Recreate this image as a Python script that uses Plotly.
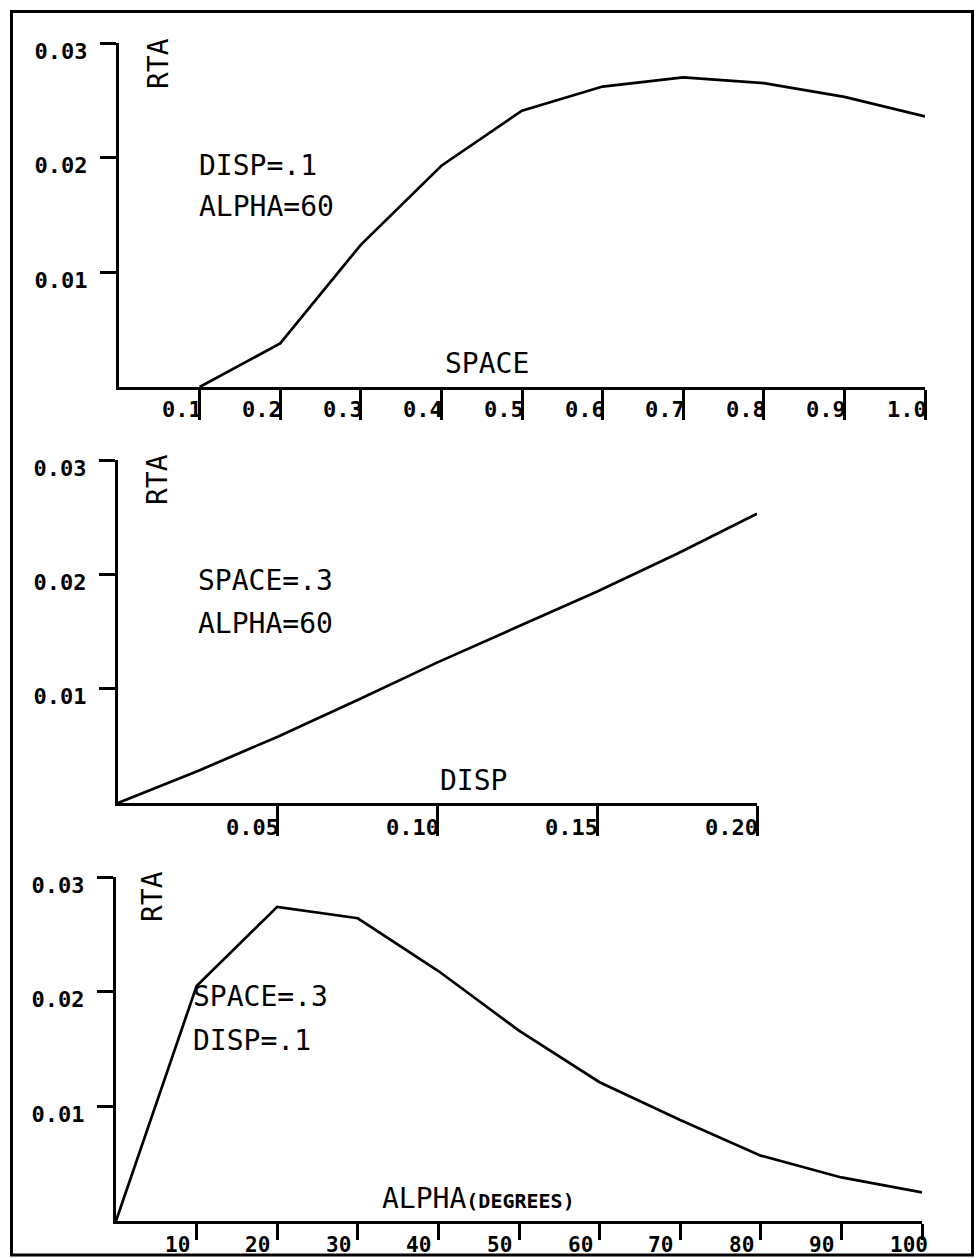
import plotly.graph_objects as go

W, H = 977, 1258

# ---------------- data ----------------
space_x = [0.1, 0.2, 0.3, 0.4, 0.5, 0.6, 0.7, 0.8, 0.9, 1.0]
space_rta = [0.0, 0.0038, 0.0124, 0.0193, 0.0241, 0.0262, 0.0270, 0.0265, 0.0253, 0.0236]

disp_x = [0.0, 0.025, 0.05, 0.075, 0.10, 0.125, 0.15, 0.175, 0.20]
disp_rta = [0.0, 0.0028, 0.0058, 0.0090, 0.0123, 0.0154, 0.0185, 0.0218, 0.0253]

alpha_x = [0, 10, 20, 30, 40, 50, 60, 70, 80, 90, 100]
alpha_rta = [0.0, 0.0205, 0.0274, 0.0264, 0.0218, 0.0166, 0.0121, 0.0088, 0.0057, 0.0038, 0.0025]

y_ticks = [0.01, 0.02, 0.03]
y_ticktext = ["0.01", "0.02", "0.03"]

space_ticks = [0.1, 0.2, 0.3, 0.4, 0.5, 0.6, 0.7, 0.8, 0.9, 1.0]
space_ticktext = ["0.1", "0.2", "0.3", "0.4", "0.5", "0.6", "0.7", "0.8", "0.9", "1.0"]
disp_ticks = [0.05, 0.10, 0.15, 0.20]
disp_ticktext = ["0.05", "0.10", "0.15", "0.20"]
alpha_ticks = [10, 20, 30, 40, 50, 60, 70, 80, 90, 100]
alpha_ticktext = ["10", "20", "30", "40", "50", "60", "70", "80", "90", "100"]

# ---------------- helpers ----------------
def px(x):
    return x / W

def py(y):
    return 1 - y / H

MONO = "DejaVu Sans Mono"
BLACK = "#000000"

panels = [
    dict(xd=(119, 925), yd=(43, 387), xr=[0, 1.0], x=space_x, y=space_rta,
         ticks=space_ticks, tt=space_ticktext, ticklen=30, lab_y=409, anchor="right", shift=4, fs=22),
    dict(xd=(118, 757), yd=(460, 803), xr=[0, 0.20], x=disp_x, y=disp_rta,
         ticks=disp_ticks, tt=disp_ticktext, ticklen=30, lab_y=827, anchor="right", shift=3, fs=22),
    dict(xd=(116, 922), yd=(877, 1221), xr=[0, 100], x=alpha_x, y=alpha_rta,
         ticks=alpha_ticks, tt=alpha_ticktext, ticklen=16, lab_y=1245, anchor="left", shift=-34, fs=21),
]

fig = go.Figure()
annotations = []
layout = dict(
    template="none",
    width=W, height=H,
    margin=dict(l=0, r=0, t=0, b=0, pad=0, autoexpand=False),
    paper_bgcolor="white", plot_bgcolor="white",
    showlegend=False,
)

for i, p in enumerate(panels, start=1):
    sx = "" if i == 1 else str(i)
    xa, ya = "xaxis" + sx, "yaxis" + sx
    fig.add_trace(go.Scatter(
        x=p["x"], y=p["y"], mode="lines",
        line=dict(color=BLACK, width=2.7),
        xaxis="x" + sx, yaxis="y" + sx, hoverinfo="skip",
    ))
    layout[xa] = dict(
        domain=[px(p["xd"][0]), px(p["xd"][1])],
        range=p["xr"], anchor="y" + sx, automargin=False,
        showline=True, linecolor=BLACK, linewidth=3,
        showgrid=False, zeroline=False,
        ticks="outside", tickvals=p["ticks"], ticklen=p["ticklen"],
        tickwidth=3, tickcolor=BLACK, showticklabels=False,
    )
    layout[ya] = dict(
        domain=[py(p["yd"][1]), py(p["yd"][0])],
        range=[0, 0.03], anchor="x" + sx, automargin=False,
        showline=True, linecolor=BLACK, linewidth=3,
        showgrid=False, zeroline=False,
        ticks="outside", tickvals=y_ticks, ticktext=y_ticktext,
        ticklen=16, tickwidth=3, tickcolor=BLACK,
        tickfont=dict(family=MONO, size=22, color=BLACK, weight="bold"),
        ticklabelstandoff=8, ticklabelshift=8,
    )
    for v, t in zip(p["ticks"], p["tt"]):
        annotations.append(dict(
            x=v, xref="x" + sx, y=py(p["lab_y"]), yref="paper",
            text=t, showarrow=False, xanchor=p["anchor"], yanchor="middle",
            xshift=p["shift"],
            font=dict(family=MONO, size=p["fs"], color=BLACK, weight="bold"),
        ))

TXT = dict(family=MONO, size=28, color=BLACK)

def label(text, x, y, xanchor="left", angle=0, font=TXT):
    annotations.append(dict(
        x=px(x), y=py(y), xref="paper", yref="paper", text=text,
        showarrow=False, xanchor=xanchor, yanchor="middle",
        textangle=angle, font=font,
    ))

# panel 1
label("RTA", 159, 64, "center", -90)
label("DISP=.1", 197, 165)
label("ALPHA=60", 197, 207)
label("SPACE", 487, 363, "center")
# panel 2
label("RTA", 157, 480, "center", -90)
label("SPACE=.3", 196, 580)
label("ALPHA=60", 196, 623)
label("DISP", 473, 780, "center")
# panel 3
label("RTA", 152, 897, "center", -90)
label("SPACE=.3", 191, 997)
label("DISP=.1", 191, 1040)
label("ALPHA<b><span style='font-size:20px'>(DEGREES)</span></b>", 380, 1198)

layout["annotations"] = annotations
layout["shapes"] = [dict(
    type="rect", xref="paper", yref="paper",
    x0=px(11.5), x1=px(972.5), y0=py(1255), y1=py(11.5),
    line=dict(color=BLACK, width=3), layer="above",
)]

fig.update_layout(**layout)
fig.write_html(
    "out.html",
    config={"displayModeBar": False},
    post_script="document.body.style.margin='0';document.body.style.overflow='hidden';",
)
